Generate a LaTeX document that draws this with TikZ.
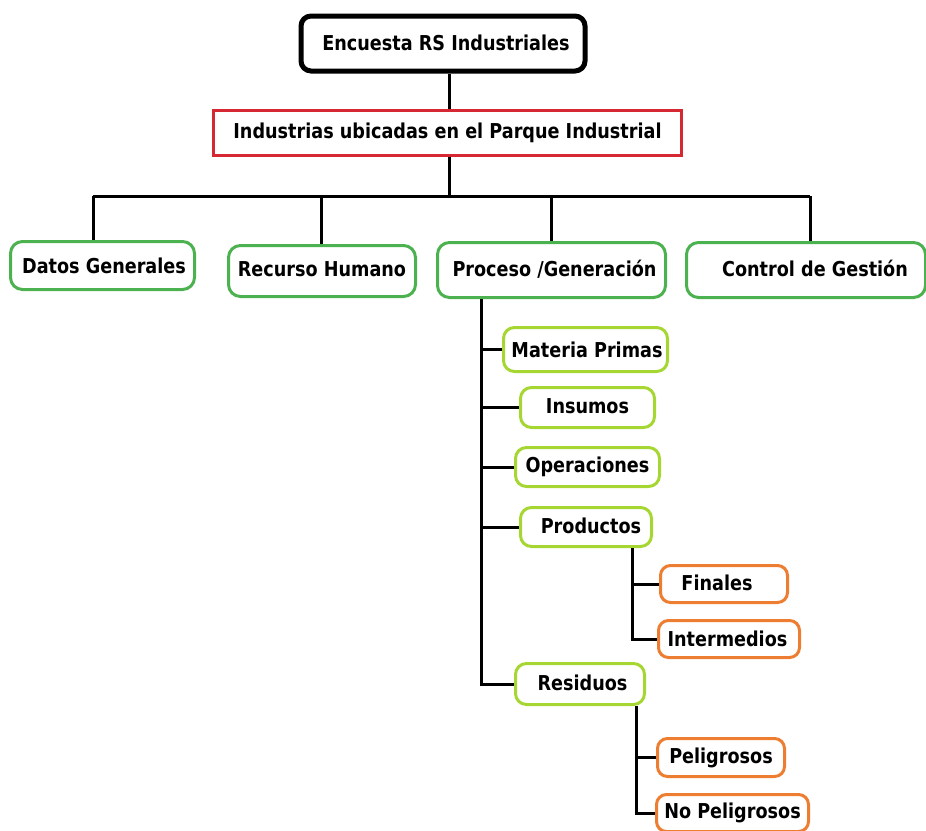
\documentclass[tikz,border=0pt]{standalone}
\usepackage{fontspec}
\setmainfont{DejaVu Sans}[FakeStretch=0.86]
\definecolor{bgreen}{RGB}{76,178,80}
\definecolor{blime}{RGB}{166,214,50}
\definecolor{borange}{RGB}{237,125,49}
\definecolor{bred}{RGB}{214,40,50}
\begin{document}
\begin{tikzpicture}[x=1pt,y=-1pt,
  every node/.style={font=\bfseries\fontsize{20.5}{24}\selectfont, text=black, inner sep=0pt},
  topbox/.style={draw=black, line width=5pt, rounded corners=10pt},
  redbox/.style={draw=bred, line width=2.5pt},
  greenbox/.style={draw=bgreen, line width=3pt, rounded corners=12pt},
  limebox/.style={draw=blime, line width=3pt, rounded corners=11pt},
  orangebox/.style={draw=borange, line width=3pt, rounded corners=10pt},
  conn/.style={draw=black, line width=3pt}]
\useasboundingbox (0,0) rectangle (926,830);
\begin{scope}
\clip (0,0) rectangle (926,830);
\node[topbox, minimum width=284pt, minimum height=55pt] (top) at (443,43.5) {\hspace*{6pt}\raisebox{1pt}{Encuesta RS Industriales}};
\node[redbox, minimum width=468pt, minimum height=45pt] (red) at (447.5,133) {Industrias ubicadas en el Parque Industrial};
\node[greenbox, minimum width=184pt, minimum height=48pt] (dg) at (102.5,265.5) {\hspace*{3pt}Datos Generales};
\node[greenbox, minimum width=187pt, minimum height=51pt] (rh) at (322,271) {\raisebox{4pt}{Recurso Humano}};
\node[greenbox, minimum width=228pt, minimum height=55pt] (pg) at (551.5,270) {\hspace*{6pt}\raisebox{4pt}{Proceso /Generación}};
\node[greenbox, minimum width=239pt, minimum height=55pt] (cg) at (806,270) {\hspace*{18pt}\raisebox{3pt}{Control de Gestión}};
\node[limebox, minimum width=164pt, minimum height=44pt] (mp) at (585.5,349.5) {\hspace*{3pt}Materia Primas};
\node[limebox, minimum width=134pt, minimum height=40pt] (ins) at (587.5,407.5) {\raisebox{3pt}{Insumos}};
\node[limebox, minimum width=144pt, minimum height=39pt] (op) at (587.5,467) {\raisebox{1pt}{Operaciones}};
\node[limebox, minimum width=131pt, minimum height=39pt] (prod) at (586,527) {\hspace*{10pt}\raisebox{2pt}{Productos}};
\node[limebox, minimum width=129pt, minimum height=41pt] (res) at (580,684) {\hspace*{5pt}\raisebox{2pt}{Residuos}};
\node[orangebox, minimum width=127pt, minimum height=37pt] (fin) at (724,584) {\hspace*{-14pt}\raisebox{2pt}{Finales}};
\node[orangebox, minimum width=141pt, minimum height=37pt] (int) at (729,639) {\hspace*{-3pt}\raisebox{1pt}{Intermedios}};
\node[orangebox, minimum width=127pt, minimum height=38pt] (pel) at (721,757.5) {\raisebox{2pt}{Peligrosos}};
\node[orangebox, minimum width=152pt, minimum height=37pt] (nop) at (732.5,813) {\raisebox{3pt}{No Peligrosos}};
\coordinate (b1) at (93,196);
\coordinate (b2) at (321,196);
\coordinate (b3) at (551,196);
\coordinate (b4) at (810,196);
\coordinate (bm) at (449,196);
\coordinate (v1) at (481,0);
\coordinate (v2) at (632,0);
\coordinate (v3) at (636,0);
\draw[conn] (top.south -| bm) -- (red.north -| bm);
\draw[conn] (red.south -| bm) -- (bm);
\draw[conn] (b1) -- (b4);
\draw[conn] (b1) -- (b1 |- dg.north);
\draw[conn] (b2) -- (b2 |- rh.north);
\draw[conn] (b3) -- (b3 |- pg.north);
\draw[conn] (b4) -- (b4 |- cg.north);
\draw[conn] (v1 |- pg.south) |- (res.west);
\draw[conn] (v1 |- mp.west) -- (mp.west);
\draw[conn] (v1 |- ins.west) -- (ins.west);
\draw[conn] (v1 |- op.west) -- (op.west);
\draw[conn] (v1 |- prod.west) -- (prod.west);
\draw[conn] (v2 |- prod.south) |- (int.west);
\draw[conn] (v2 |- fin.west) -- (fin.west);
\draw[conn] (v3 |- res.south) |- (nop.west);
\draw[conn] (v3 |- pel.west) -- (pel.west);
\end{scope}
\end{tikzpicture}
\end{document}
